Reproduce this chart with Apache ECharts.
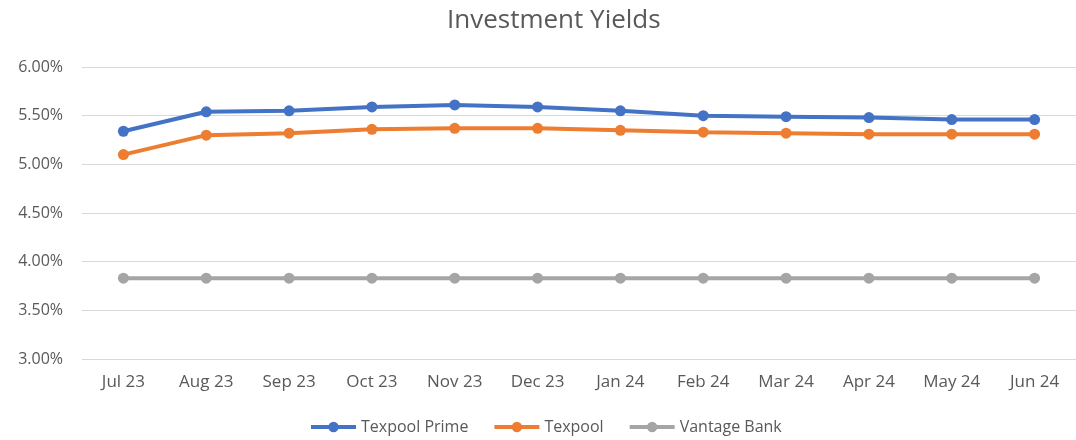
<!DOCTYPE html>
<html><head><meta charset="utf-8">
<script src="https://cdn.jsdelivr.net/npm/echarts@6/dist/echarts.min.js"></script>
<style>html,body{margin:0;padding:0;background:#fff}#c{width:1076px;height:440px}</style>
</head><body><div id="c"></div>
<script>
const categories = ['Jul 23','Aug 23','Sep 23','Oct 23','Nov 23','Dec 23','Jan 24','Feb 24','Mar 24','Apr 24','May 24','Jun 24'];
const texpoolPrime = [5.34,5.54,5.55,5.59,5.61,5.59,5.55,5.50,5.49,5.48,5.46,5.46];
const texpool = [5.10,5.30,5.32,5.36,5.37,5.37,5.35,5.33,5.32,5.31,5.31,5.31];
const vantageBank = [3.83,3.83,3.83,3.83,3.83,3.83,3.83,3.83,3.83,3.83,3.83,3.83];
const FONT = 'Open Sans';
const chart = echarts.init(document.getElementById('c'), null, {renderer:'canvas'});
function ser(name, data, color){
  return {name, type:'line', data, color, symbol:'circle', symbolSize:11,
    lineStyle:{width:4, color}, itemStyle:{color}, animation:false};
}
chart.setOption({
  animation:false,
  title:{text:'Investment Yields', left:442, top:3,
    textStyle:{fontFamily:FONT, fontSize:26, fontWeight:'normal', color:'#595959'}},
  grid:{left:82, right:-2, top:67, bottom:81},
  legend:{left:304, bottom:0, itemWidth:45, itemHeight:13, itemGap:24,
    lineStyle:{width:4},
    textStyle:{fontFamily:FONT, fontSize:16, color:'#595959'},
    data:['Texpool Prime','Texpool','Vantage Bank']},
  xAxis:{type:'category', data:categories, boundaryGap:true,
    axisLine:{show:false}, axisTick:{show:false},
    axisLabel:{fontFamily:FONT, fontSize:17, color:'#595959', margin:15}},
  yAxis:{type:'value', min:3, max:6, interval:0.5,
    axisLine:{show:false}, axisTick:{show:false},
    splitLine:{lineStyle:{color:'#d9d9d9', width:1}},
    axisLabel:{fontFamily:FONT, fontSize:16, color:'#595959', margin:19,
      formatter:v=>v.toFixed(2)+'%'}},
  series:[ser('Texpool Prime',texpoolPrime,'#4472C4'), ser('Texpool',texpool,'#ED7D31'), ser('Vantage Bank',vantageBank,'#A5A5A5')]
});
</script></body></html>
